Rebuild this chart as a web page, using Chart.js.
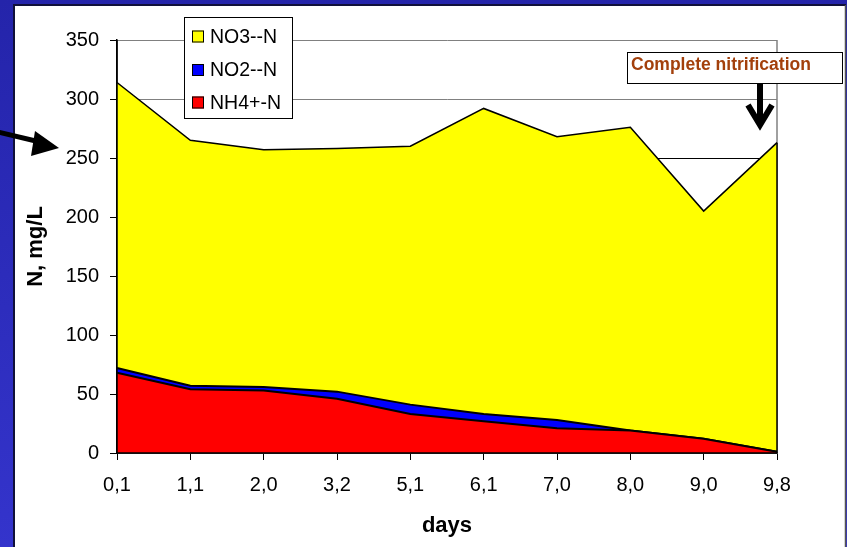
<!DOCTYPE html>
<html>
<head>
<meta charset="utf-8">
<title>Nitrogen species over time</title>
<script src="https://cdn.jsdelivr.net/npm/chart.js@4.4.1/dist/chart.umd.min.js"></script>
<style>
  html, body { margin: 0; padding: 0; background: #2c2cbc; overflow: hidden; }
  #wrap { position: absolute; left: 0; top: 0; width: 847px; height: 547px; }
  canvas { display: block; }
</style>
</head>
<body>
<div id="wrap"><canvas id="chart" width="847" height="547"></canvas></div>
<script>
// Sampling days (x categories)
const days = ['0,1', '1,1', '2,0', '3,2', '5,1', '6,1', '7,0', '8,0', '9,0', '9,8'];
// Nitrogen concentrations, mg/L (stacked: NH4 at the bottom, then NO2, then NO3)
const nh4 = [68, 54, 53, 46, 33, 27, 21, 19, 12, 1];
const no2 = [4, 3, 3, 6, 8, 6, 7, 0, 0, 0];
const no3 = [242, 208, 201, 206, 219, 259, 240, 257, 193, 262];
// Y-axis ticks
const yTicks = [0, 50, 100, 150, 200, 250, 300, 350];
// Series names and colours for the key
const seriesNames = ['NO3--N', 'NO2--N', 'NH4+-N'];
const seriesColors = ['#ffff00', '#0000ff', '#ff0000'];
const noteText = 'Complete nitrification';

const FONT = "'Liberation Sans', Arial, sans-serif";

// Blue slide background with white panel
const backdrop = {
  id: 'backdrop',
  beforeDraw(chart) {
    const { ctx, width, height } = chart;
    ctx.save();
    const g = ctx.createLinearGradient(0, 0, 0, height);
    g.addColorStop(0, '#2424aa');
    g.addColorStop(1, '#3434cc');
    ctx.fillStyle = g;
    ctx.fillRect(0, 0, width, height);
    ctx.fillStyle = '#ffffff';
    ctx.fillRect(15, 6, 831, height - 6);
    ctx.strokeStyle = '#10103a';
    ctx.lineWidth = 2;
    ctx.beginPath();
    ctx.moveTo(14, height);
    ctx.lineTo(14, 5);
    ctx.lineTo(846, 5);
    ctx.stroke();
    ctx.strokeStyle = '#555555';
    ctx.lineWidth = 1.5;
    ctx.beginPath();
    ctx.moveTo(845.5, 5);
    ctx.lineTo(845.5, height);
    ctx.stroke();
    ctx.restore();
  },
  beforeDatasetsDraw(chart) {
    const { ctx, chartArea: a } = chart;
    ctx.save();
    ctx.strokeStyle = '#808080';
    ctx.lineWidth = 1.5;
    ctx.beginPath();
    ctx.moveTo(a.right, a.top);
    ctx.lineTo(a.right, a.bottom);
    ctx.stroke();
    ctx.restore();
  },
  afterDatasetsDraw(chart) {
    const { ctx, chartArea: a, scales } = chart;
    const last = days.length - 1;
    const topLast = nh4[last] + no2[last] + no3[last];
    ctx.save();
    ctx.strokeStyle = '#000000';
    ctx.lineWidth = 1.5;
    ctx.beginPath();
    ctx.moveTo(a.left, a.top);
    ctx.lineTo(a.left, a.bottom);
    ctx.lineTo(a.right, a.bottom);
    ctx.stroke();
    ctx.beginPath();
    ctx.moveTo(a.right, scales.y.getPixelForValue(topLast));
    ctx.lineTo(a.right, a.bottom);
    ctx.stroke();
    ctx.restore();
  }
};

// Key box, note box and arrows
const overlay = {
  id: 'overlay',
  afterDraw(chart) {
    const { ctx } = chart;
    ctx.save();

    // key
    ctx.fillStyle = '#ffffff';
    ctx.fillRect(184, 17, 108, 101);
    ctx.strokeStyle = '#000000';
    ctx.lineWidth = 1;
    ctx.strokeRect(184.5, 17.5, 108, 101);
    ctx.font = '19.5px ' + FONT;
    ctx.textBaseline = 'middle';
    ctx.textAlign = 'left';
    const rows = [36.5, 70, 102.5];
    seriesNames.forEach((name, i) => {
      ctx.fillStyle = seriesColors[i];
      ctx.fillRect(192, rows[i] - 6, 12, 12);
      ctx.strokeStyle = '#000000';
      ctx.strokeRect(192.5, rows[i] - 5.5, 11, 11);
      ctx.fillStyle = '#000000';
      ctx.fillText(name, 210, rows[i] + 1);
    });

    // note box
    ctx.fillStyle = '#ffffff';
    ctx.fillRect(627, 52, 215, 31);
    ctx.strokeStyle = '#000000';
    ctx.lineWidth = 1;
    ctx.strokeRect(627.5, 52.5, 215, 31);
    ctx.font = 'bold 17.5px ' + FONT;
    ctx.fillStyle = '#a3400c';
    ctx.textBaseline = 'middle';
    ctx.fillText(noteText, 631, 65);

    // down arrow under the note
    ctx.strokeStyle = '#000000';
    ctx.lineWidth = 6;
    ctx.lineJoin = 'miter';
    ctx.beginPath();
    ctx.moveTo(760, 83);
    ctx.lineTo(760, 124);
    ctx.stroke();
    ctx.beginPath();
    ctx.moveTo(748, 105);
    ctx.lineTo(760, 125);
    ctx.lineTo(772, 105);
    ctx.stroke();

    // arrow from the left margin
    ctx.lineWidth = 5;
    ctx.beginPath();
    ctx.moveTo(-2, 132);
    ctx.lineTo(40, 142);
    ctx.stroke();
    ctx.fillStyle = '#000000';
    ctx.beginPath();
    ctx.moveTo(59, 148);
    ctx.lineTo(35, 131);
    ctx.lineTo(31, 156);
    ctx.closePath();
    ctx.fill();

    ctx.restore();
  }
};

const common = { pointRadius: 0, pointHoverRadius: 0, tension: 0, borderColor: '#000000' };

new Chart(document.getElementById('chart'), {
  type: 'line',
  data: {
    labels: days,
    datasets: [
      { ...common, label: seriesNames[2], data: nh4, backgroundColor: seriesColors[2], fill: 'origin', borderWidth: 2 },
      { ...common, label: seriesNames[1], data: no2, backgroundColor: seriesColors[1], fill: '-1', borderWidth: 2 },
      { ...common, label: seriesNames[0], data: no3, backgroundColor: seriesColors[0], fill: '-1', borderWidth: 1.5 }
    ]
  },
  options: {
    responsive: false,
    animation: false,
    events: [],
    layout: { padding: { top: 40, right: 70, left: 0, bottom: 0 } },
    plugins: { legend: { display: false }, tooltip: { enabled: false } },
    scales: {
      x: {
        offset: false,
        grid: { display: true, drawOnChartArea: false, tickLength: 7, tickColor: '#000000', color: '#000000' },
        border: { display: true, color: '#000000', width: 1.5 },
        ticks: { color: '#000000', font: { family: FONT, size: 20 }, padding: 13, maxRotation: 0, autoSkip: false },
        title: { display: true, text: 'days', color: '#000000', font: { family: FONT, size: 22, weight: 'bold' }, padding: { top: 0, bottom: 8 } },
        afterFit(scale) { scale.height = 94; }
      },
      y: {
        stacked: true,
        min: 0,
        max: 350,
        afterBuildTicks(scale) { scale.ticks = yTicks.map(v => ({ value: v })); },
        grid: {
          color: c => (c.tick && c.tick.value === 250 ? '#000000' : '#808080'),
          lineWidth: 1,
          tickLength: 7,
          tickColor: '#000000'
        },
        border: { display: true, color: '#000000', width: 1.5 },
        ticks: { color: '#000000', font: { family: FONT, size: 20 }, padding: 11 },
        title: { display: true, text: 'N, mg/L', color: '#000000', font: { family: FONT, size: 22, weight: 'bold' }, padding: { top: 23, bottom: 0 } },
        afterFit(scale) { scale.width = 117; }
      }
    }
  },
  plugins: [backdrop, overlay]
});
</script>
</body>
</html>
